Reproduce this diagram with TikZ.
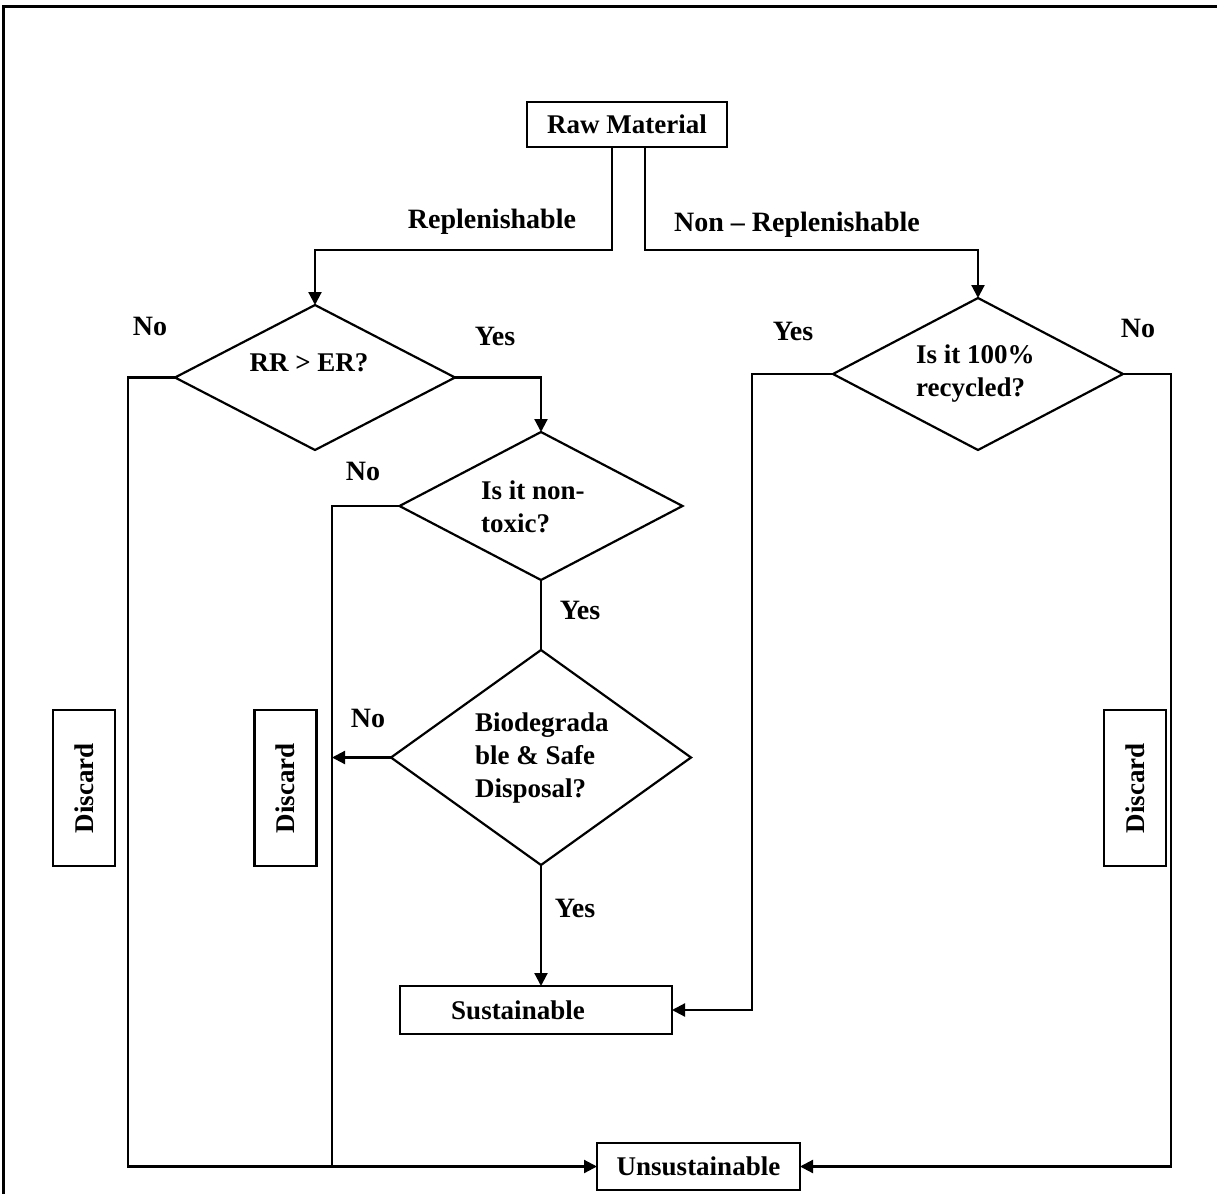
\documentclass[tikz,border=0pt]{standalone}
\usepackage{fontspec}
\setmainfont{Liberation Serif}
\usetikzlibrary{shapes.geometric,arrows.meta}
\begin{document}
\begin{tikzpicture}[x=0.5pt,y=-0.5pt,
  line width=1.1pt,
  txt/.style={font=\bfseries\fontsize{13.5}{16.5}\selectfont, inner sep=0pt, align=left},
  lab/.style={font=\bfseries\fontsize{14}{16}\selectfont, inner sep=0pt},
  box/.style={draw, rectangle, inner sep=0pt, outer sep=0pt, txt},
  dia/.style={draw, diamond, inner sep=0pt, outer sep=0pt, aspect=1},
  arr/.style={-{Triangle[length=6.5pt,width=6.5pt]}}]

\useasboundingbox (0,0) rectangle (1217,1194);

% frame along the top and left edges
\draw[line width=1.5pt] (3,1194) -- (3,6) -- (1217,6);

% boxes
\node[box, minimum width=100pt, minimum height=22.5pt] (rm) at (627,124.5) {Raw Material};
\node[box, minimum width=136pt, minimum height=24pt] (sus) at (536,1010) {};
\node[txt] (sust) at (518,1010) {Sustainable};
\node[box, minimum width=101.5pt, minimum height=23.5pt] (unsus) at (698.5,1166.5) {Unsustainable};

\node[box, rotate=90, minimum width=78pt, minimum height=31pt] (dl) at (84,788) {Discard};
\node[box, rotate=90, minimum width=78pt, minimum height=31pt] (dm) at (285.5,788) {Discard};
\node[box, rotate=90, minimum width=78pt, minimum height=31pt] (dr) at (1135,788) {Discard};

% decisions
\node[dia, minimum width=140pt, minimum height=72.5pt] (d1) at (315,377.5) {};
\node[txt] (d1t) at (309,363) {RR > ER?};
\node[dia, minimum width=141.5pt, minimum height=74pt] (d2) at (541,506) {};
\node[txt, anchor=west] (d2t) at (480,507) {Is it non-\\toxic?};
\node[dia, minimum width=150pt, minimum height=107.5pt] (d3) at (541,757.5) {};
\node[txt, anchor=west] (d3t) at (474,758) {Biodegrada\\ble \& Safe\\Disposal?};
\node[dia, minimum width=145pt, minimum height=76pt] (d4) at (978,374) {};
\node[txt, anchor=west] (d4t) at (915,374) {Is it 100\%\\recycled?};

% junctions
\coordinate (jl) at (612,250);
\coordinate (jr) at (645,250);
\coordinate (m) at (332,1166.5);

% connectors
\draw[arr] (rm.south -| jl) -- (jl) -| (d1.north);
\draw[arr] (rm.south -| jr) -- (jr) -| (d4.north);
\draw[arr] (d1.west) -- ++(-47,0) |- (unsus.west);
\draw[arr] (d1.east) -| (d2.north);
\draw (d2.west) -| (m);
\draw (d2.south) -- (d3.north);
\draw[arr] (d3.west) -- (d3.west -| m);
\draw[arr] (d3.south) -- (d3.south |- sus.north);
\draw[arr] (d4.west) -- ++(-81,0) |- (sus.east);
\draw[arr] (d4.east) -- ++(48,0) |- (unsus.east);

% branch labels
\node[lab] (l1) at (492,222) {Replenishable};
\node[lab] (l2) at (797,225) {Non – Replenishable};
\node[lab] (l3) at (150,326) {No};
\node[lab] (l4) at (495,336) {Yes};
\node[lab] (l5) at (363,471) {No};
\node[lab] (l6) at (580,610) {Yes};
\node[lab] (l7) at (368,718) {No};
\node[lab] (l8) at (575,908) {Yes};
\node[lab] (l9) at (793,331) {Yes};
\node[lab] (l10) at (1138,328) {No};
\end{tikzpicture}
\end{document}
